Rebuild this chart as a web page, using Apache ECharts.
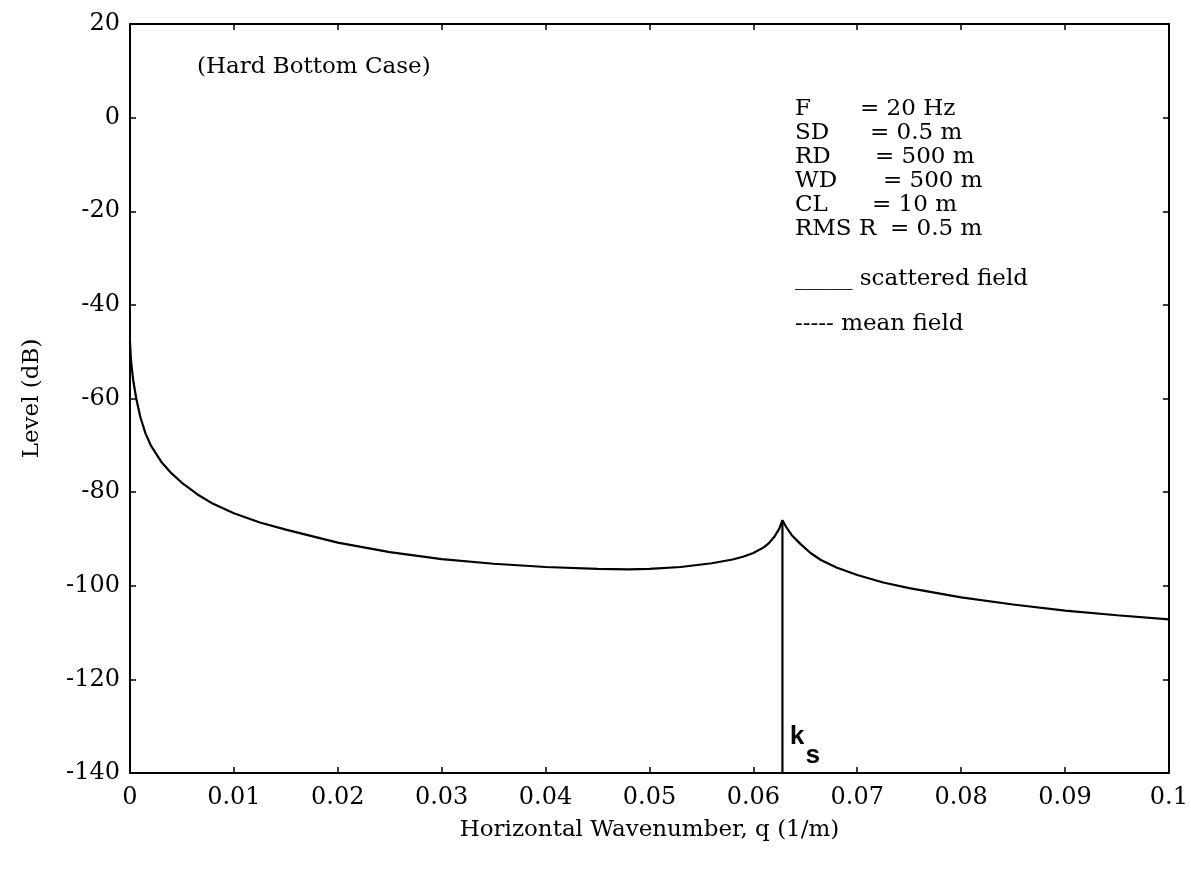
<!DOCTYPE html>
<html><head><meta charset="utf-8">
<script src="https://cdn.jsdelivr.net/npm/echarts@6/dist/echarts.min.js"></script>
<style>html,body{margin:0;padding:0;background:#fff}#c{width:1191px;height:881px}</style>
</head><body><div id="c"></div>
<script>
// ---- data ----
const qScattered = [0, 0.0001, 0.0003, 0.0006, 0.001, 0.0015, 0.002, 0.003, 0.004, 0.005, 0.0065, 0.008, 0.01, 0.0125, 0.015, 0.02, 0.025, 0.03, 0.035, 0.04, 0.045, 0.048, 0.05, 0.053, 0.056, 0.058, 0.059, 0.06, 0.061, 0.0615, 0.062, 0.0625, 0.0628, 0.0632, 0.0637, 0.0645, 0.0655, 0.0665, 0.068, 0.07, 0.0725, 0.075, 0.08, 0.085, 0.09, 0.095, 0.1];
const levelScattered = [-48, -52, -56, -60, -64, -67.5, -70, -73.5, -76, -78, -80.5, -82.5, -84.5, -86.5, -88, -90.8, -92.8, -94.3, -95.3, -96, -96.4, -96.5, -96.4, -96, -95.2, -94.4, -93.8, -93, -91.8, -90.9, -89.6, -87.8, -86, -87.6, -89.2, -91, -93, -94.5, -96.1, -97.7, -99.3, -100.5, -102.5, -104, -105.3, -106.3, -107.2];
const ks = 0.0628;
const qMean = [ks, ks];
const levelMean = [-140, -86];
const xTicks = [0, 0.01, 0.02, 0.03, 0.04, 0.05, 0.06, 0.07, 0.08, 0.09, 0.1];
const xTickLabels = ['0', '0.01', '0.02', '0.03', '0.04', '0.05', '0.06', '0.07', '0.08', '0.09', '0.1'];
const yTickLabels = ['-140', '-120', '-100', '-80', '-60', '-40', '-20', '0', '20'];
const caseLabel = '(Hard Bottom Case)';
const paramNames = ['F', 'SD', 'RD', 'WD', 'CL', 'RMS R'];
const paramValues = ['= 20 Hz', '= 0.5 m', '= 500 m', '= 500 m', '= 10 m', '= 0.5 m'];
const legendTexts = ['_____ scattered field', '----- mean field'];

// ---- layout ----
const FONT = 'DejaVu Serif';
const FS = 23;
const TFS = 24;
const paramTop = [110, 134, 158, 182, 206, 230];
const paramEqX = [860, 870, 875, 883, 872, 890];
const legendTop = [280, 325];

const chart = echarts.init(document.getElementById('c'), null, {renderer: 'canvas'});
const pairs = (xs, ys) => xs.map((x, i) => [x, ys[i]]);
const xFmt = v => { const i = xTicks.findIndex(t => Math.abs(t - v) < 1e-9); return i >= 0 ? xTickLabels[i] : ''; };
const yFmt = v => { const s = String(Math.round(v)); return yTickLabels.includes(s) ? s : ''; };

const graphics = [];
graphics.push({type: 'text', left: 197, top: 56, style: {text: caseLabel, font: FS + 'px "' + FONT + '"', fill: '#000'}});
paramNames.forEach((n, i) => {
  graphics.push({type: 'text', left: 795, top: paramTop[i] - 12, style: {text: n, font: FS + 'px "' + FONT + '"', fill: '#000'}});
  graphics.push({type: 'text', left: paramEqX[i], top: paramTop[i] - 12, style: {text: paramValues[i], font: FS + 'px "' + FONT + '"', fill: '#000'}});
});
legendTexts.forEach((t, i) => {
  graphics.push({type: 'text', left: 795, top: legendTop[i] - 12, style: {text: t, font: FS + 'px "' + FONT + '"', fill: '#000'}});
});

const axLine = {show: true, onZero: false, lineStyle: {color: '#000', width: 2}};
const tick = {show: true, inside: true, length: 6, lineStyle: {color: '#000', width: 1.5}};

chart.setOption({
  animation: false,
  backgroundColor: '#fff',
  grid: {left: 130, right: 22, top: 24, bottom: 108, containLabel: false},
  xAxis: [{
    type: 'value', min: 0, max: 0.1, interval: 0.01, position: 'bottom',
    axisLine: axLine, axisTick: tick, splitLine: {show: false},
    axisLabel: {formatter: xFmt, color: '#000', fontFamily: FONT, fontSize: TFS, margin: 13},
    name: 'Horizontal Wavenumber, q (1/m)', nameLocation: 'middle', nameGap: 46,
    nameTextStyle: {color: '#000', fontFamily: FONT, fontSize: FS}
  }, {
    type: 'value', min: 0, max: 0.1, interval: 0.01, position: 'top',
    axisLine: axLine, axisTick: tick, axisLabel: {show: false}, splitLine: {show: false}
  }],
  yAxis: [{
    type: 'value', min: -140, max: 20, interval: 20, position: 'left',
    axisLine: axLine, axisTick: tick, splitLine: {show: false},
    axisLabel: {formatter: yFmt, color: '#000', fontFamily: FONT, fontSize: TFS, margin: 10},
    name: 'Level (dB)', nameLocation: 'middle', nameGap: 86, nameRotate: 90,
    nameTextStyle: {color: '#000', fontFamily: FONT, fontSize: FS}
  }, {
    type: 'value', min: -140, max: 20, interval: 20, position: 'right',
    axisLine: axLine, axisTick: tick, axisLabel: {show: false}, splitLine: {show: false}
  }],
  series: [{
    name: 'scattered field', type: 'line', data: pairs(qScattered, levelScattered),
    showSymbol: false, symbol: 'none', smooth: false,
    lineStyle: {color: '#000', width: 2.2}
  }, {
    name: 'mean field', type: 'line', data: pairs(qMean, levelMean),
    showSymbol: false, symbol: 'none',
    lineStyle: {color: '#000', width: 2.2}
  }, {
    name: 'ks', type: 'scatter', data: [[ks, -140]], symbolSize: 0,
    label: {
      show: true, position: 'right', offset: [2, -36], color: '#000', opacity: 1,
      formatter: '{k|k}{s|s}',
      rich: {
        k: {fontFamily: 'Liberation Mono', fontSize: 26, fontWeight: 'bold', color: '#000'},
        s: {fontFamily: 'Liberation Mono', fontSize: 26, fontWeight: 'bold', color: '#000', padding: [38, 0, 0, 0]}
      }
    }
  }],
  graphic: graphics
});
</script></body></html>
